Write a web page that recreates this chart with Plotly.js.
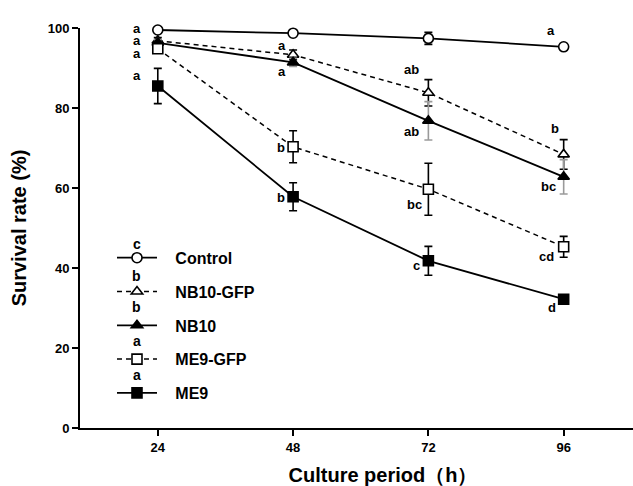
<!DOCTYPE html>
<html>
<head>
<meta charset="utf-8">
<script src="https://cdn.plot.ly/plotly-3.0.1.min.js"></script>
<style>
html,body{margin:0;padding:0;overflow:hidden;background:#fff;}
#wrap{width:633px;height:486px;overflow:hidden;}
</style>
</head>
<body>
<div id="wrap"><div id="chart"></div></div>
<script>
// ---- data ----
var hours = [24, 48, 72, 96];
var seriesNames = ['Control', 'NB10-GFP', 'NB10', 'ME9-GFP', 'ME9'];

var control    = [99.5, 98.7, 97.4, 95.3];
var controlErr = [0.5, 0.5, 1.5, 0.5];
var nb10gfp    = [96.8, 93.3, 83.8, 68.4];
var nb10gfpErr = [0.8, 1.2, 3.3, 3.7];
var nb10       = [96.3, 91.4, 76.8, 62.8];
var nb10Err    = [0.8, 1.0, 4.8, 4.3];
var me9gfp     = [94.8, 70.3, 59.7, 45.3];
var me9gfpErr  = [1.0, 4.0, 6.5, 2.6];
var me9        = [85.5, 57.8, 41.8, 32.2];
var me9Err     = [4.4, 3.5, 3.6, 0.6];

// significance letters at each time point
var controlLetters = ['a', 'a', 'a', 'a'];
var nb10gfpLetters = ['a', 'a', 'ab', 'b'];
var nb10Letters    = ['a', 'a', 'ab', 'bc'];
var me9gfpLetters  = ['a', 'b', 'bc', 'cd'];
var me9Letters     = ['a', 'b', 'c', 'd'];
// letters beside legend entries
var legendLetters  = ['c', 'b', 'b', 'a', 'a'];

var yTicks = [0, 20, 40, 60, 80, 100];

// ---- label placement (style) ----
var labelY = [
  [103.1, 102.75, 100.75, 99.5],
  [99.9, 95.75, 89.75, 75.0],
  [96.8, 89.25, 74.25, 60.5],
  [93.7, 70.25, 56.0, 43.0],
  [88.25, 57.75, 40.75, 30.25]
];
var labelShift = [
  [-21, -11, -14, -13],
  [-21, -11, -17, -9],
  [-21, -11, -17, -15],
  [-21, -12, -14, -17],
  [-21, -12, -12, -12]
];
var legendLetterY = [0.46, 0.38, 0.3025, 0.2175, 0.1325];
var legendPad = '\u00A0\u00A0\u00A0';

var FONT = 'Liberation Sans, Arial, Helvetica, sans-serif';

var values = [control, nb10gfp, nb10, me9gfp, me9];
var errs = [controlErr, nb10gfpErr, nb10Err, me9gfpErr, me9Err];
var letters = [controlLetters, nb10gfpLetters, nb10Letters, me9gfpLetters, me9Letters];
var symbols = ['circle', 'triangle-up', 'triangle-up', 'square', 'square'];
var fills = ['#fff', '#fff', '#000', '#fff', '#000'];
var dashes = ['solid', '5px,4px', 'solid', '5px,4px', 'solid'];
var errColors = ['#000', '#000', '#9a9a9a', '#000', '#000'];
var lineWidths = [1.8, 1.5, 1.8, 1.5, 1.8];

var traces = seriesNames.map(function (name, i) {
  return {
    type: 'scatter',
    mode: 'lines+markers',
    name: legendPad + name,
    legendgroup: 'g' + i,
    x: hours,
    y: values[i],
    cliponaxis: false,
    line: {color: '#000', width: lineWidths[i], dash: dashes[i]},
    marker: {
      symbol: symbols[i],
      size: 10,
      color: fills[i],
      line: {color: '#000', width: 1.6}
    },
    error_y: {type: 'data', array: errs[i], visible: true, color: errColors[i], thickness: 1.6, width: 4}
  };
});

var annotations = [];
letters.forEach(function (arr, i) {
  arr.forEach(function (t, j) {
    annotations.push({
      x: hours[j], y: labelY[i][j], xref: 'x', yref: 'y',
      xanchor: 'center', yanchor: 'middle',
      text: t, showarrow: false, xshift: labelShift[i][j],
      font: {family: FONT, size: 13, weight: 'bold', color: '#000'}
    });
  });
});
legendLetters.forEach(function (t, i) {
  annotations.push({
    x: 0.094, y: legendLetterY[i], xref: 'paper', yref: 'paper',
    xanchor: 'center', yanchor: 'middle',
    text: t, showarrow: false,
    font: {family: FONT, size: 14, weight: 'bold', color: '#000'}
  });
});

var layout = {
  width: 686, height: 486,
  margin: {l: 80, r: 0, t: 28, b: 58},
  paper_bgcolor: '#fff', plot_bgcolor: '#fff',
  font: {family: FONT, color: '#000'},
  showlegend: true,
  legend: {
    x: 0.0528, y: 0.468, xanchor: 'left', yanchor: 'top',
    bgcolor: 'rgba(0,0,0,0)', tracegroupgap: 10, itemwidth: 40,
    font: {family: FONT, size: 16, weight: 'bold', color: '#000'}
  },
  xaxis: {
    range: [10.2, 117.7],
    tickvals: hours, ticktext: hours.map(String),
    showline: true, linewidth: 2, linecolor: '#000',
    ticks: 'outside', ticklen: 6, tickwidth: 2, tickcolor: '#000',
    showgrid: false, zeroline: false,
    tickfont: {family: FONT, size: 13, weight: 'bold', color: '#000'},
    title: {text: 'Culture period（h）', standoff: 14,
            font: {family: FONT, size: 20, weight: 'bold', color: '#000'}}
  },
  yaxis: {
    range: [0, 100],
    tickvals: yTicks,
    showline: true, linewidth: 2, linecolor: '#000',
    ticks: 'outside', ticklen: 6, tickwidth: 2, tickcolor: '#000',
    showgrid: false, zeroline: false,
    tickfont: {family: FONT, size: 13, weight: 'bold', color: '#000'},
    title: {text: 'Survival rate (%)', standoff: 16,
            font: {family: FONT, size: 20, weight: 'bold', color: '#000'}}
  },
  annotations: annotations
};

Plotly.newPlot('chart', traces, layout, {displayModeBar: false, staticPlot: true});
</script>
</body>
</html>
